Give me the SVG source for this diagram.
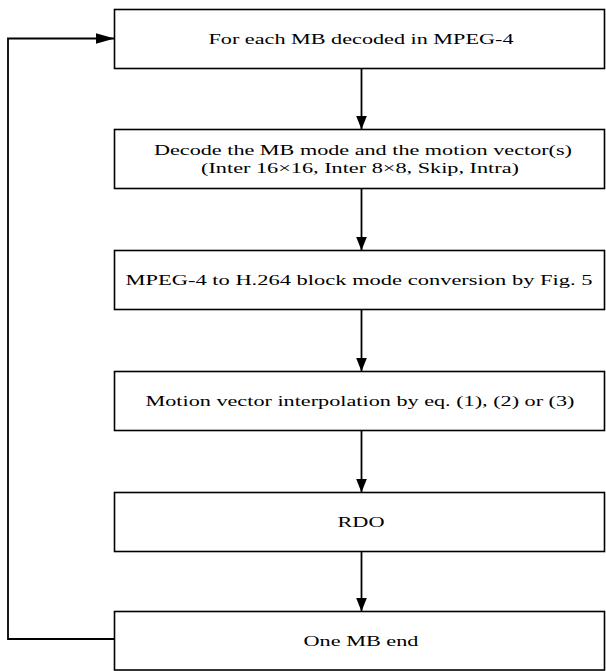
<svg xmlns="http://www.w3.org/2000/svg" width="606" height="671" viewBox="0 0 606 671">
<defs>
<style>
.box{fill:#fff;stroke:#000;stroke-width:1.6}
.lbl{font-family:"Liberation Serif","Times New Roman",serif;font-size:15px;fill:#000;text-anchor:middle}
.conn{fill:none;stroke:#000;stroke-width:1.8}
</style>
<marker id="ah" viewBox="0 0 14 11" refX="14" refY="5.5" markerWidth="14" markerHeight="11" markerUnits="userSpaceOnUse" orient="auto">
<path d="M0,0 L14,5.5 L0,11 Z" fill="#000"/>
</marker>
<marker id="ah2" viewBox="0 0 19 11" refX="19" refY="5.5" markerWidth="19" markerHeight="11" markerUnits="userSpaceOnUse" orient="auto">
<path d="M0,0 L19,5.5 L0,11 Z" fill="#000"/>
</marker>
</defs>
<rect width="606" height="671" fill="#fff"/>
<g id="connectors">
<line class="conn" x1="361.5" y1="68.5" x2="361.5" y2="129.5" marker-end="url(#ah)"/>
<line class="conn" x1="361.5" y1="188.5" x2="361.5" y2="250.5" marker-end="url(#ah)"/>
<line class="conn" x1="361.5" y1="309.5" x2="361.5" y2="371.5" marker-end="url(#ah)"/>
<line class="conn" x1="361.5" y1="430.5" x2="361.5" y2="492.5" marker-end="url(#ah)"/>
<line class="conn" x1="361.5" y1="551.5" x2="361.5" y2="611.5" marker-end="url(#ah)"/>
<polyline class="conn" points="114.5,639 8,639 8,38.5 114.5,38.5" marker-end="url(#ah2)"/>
</g>
<g id="n1">
<rect class="box" x="114.5" y="9.5" width="490" height="59"/>
<text class="lbl" x="361" y="44" textLength="305" lengthAdjust="spacingAndGlyphs">For each MB decoded in MPEG-4</text>
</g>
<g id="n2">
<rect class="box" x="114.5" y="129.5" width="490" height="59"/>
<text class="lbl" x="363" y="155" textLength="418" lengthAdjust="spacingAndGlyphs">Decode the MB mode and the motion vector(s)</text>
<text class="lbl" x="360" y="173" textLength="318" lengthAdjust="spacingAndGlyphs">(Inter 16×16, Inter 8×8, Skip, Intra)</text>
</g>
<g id="n3">
<rect class="box" x="114.5" y="250.5" width="490" height="59"/>
<text class="lbl" x="359" y="285" textLength="467" lengthAdjust="spacingAndGlyphs">MPEG-4 to H.264 block mode conversion by Fig. 5</text>
</g>
<g id="n4">
<rect class="box" x="114.5" y="371.5" width="490" height="59"/>
<text class="lbl" x="360" y="406" textLength="429" lengthAdjust="spacingAndGlyphs">Motion vector interpolation by eq. (1), (2) or (3)</text>
</g>
<g id="n5">
<rect class="box" x="114.5" y="492.5" width="490" height="59"/>
<text class="lbl" x="361" y="527" textLength="47" lengthAdjust="spacingAndGlyphs">RDO</text>
</g>
<g id="n6">
<rect class="box" x="114.5" y="611.5" width="490" height="58.5"/>
<text class="lbl" x="361" y="646" textLength="115" lengthAdjust="spacingAndGlyphs">One MB end</text>
</g>
</svg>
